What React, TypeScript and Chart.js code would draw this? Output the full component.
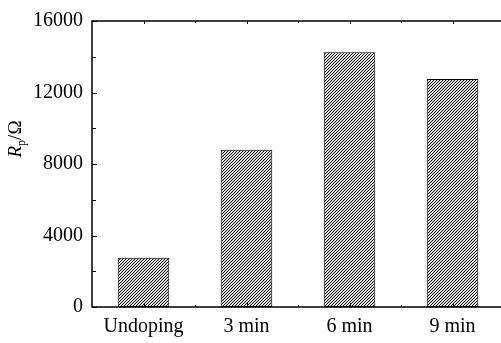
import React, { useEffect, useRef } from "react";
import { Chart, registerables } from "chart.js";

Chart.register(...registerables);

const categories = ["Undoping", "3 min", "6 min", "9 min"];
const rpValues = [2750, 8800, 14250, 12750];
const yTicks = [0, 4000, 8000, 12000, 16000];
const yMinorStep = 2000;
const yMax = 16000;

const FONT = "'Liberation Serif', 'Times New Roman', serif";

function makeHatch(): CanvasPattern | string {
  const c = document.createElement("canvas");
  const p = 3;
  c.width = p;
  c.height = p;
  const cx = c.getContext("2d");
  if (!cx) return "#555";
  const img = cx.createImageData(p, p);
  for (let y = 0; y < p; y++) {
    for (let x = 0; x < p; x++) {
      const i = (y * p + x) * 4;
      const m = (x + y) % p;
      const v = m === 0 ? 0 : 225;
      img.data[i] = v;
      img.data[i + 1] = v;
      img.data[i + 2] = v;
      img.data[i + 3] = 255;
    }
  }
  cx.putImageData(img, 0, 0);
  return cx.createPattern(c, "repeat") || "#555";
}

const framePlugin = {
  id: "frame",
  afterDraw(chart: any) {
    const { ctx, chartArea, scales } = chart;
    const { left, right, top, bottom } = chartArea;
    const ys = scales.y;
    const xs = scales.x;
    ctx.save();
    ctx.strokeStyle = "#000";
    ctx.lineWidth = 1.5;
    ctx.beginPath();
    ctx.rect(left, top, right - left, bottom - top);
    ctx.stroke();
    ctx.lineWidth = 1;
    for (let v = 0; v <= yMax; v += yMinorStep) {
      const py = Math.round(ys.getPixelForValue(v)) + 0.5;
      const len = v % 4000 === 0 ? 5 : 4;
      ctx.beginPath();
      ctx.moveTo(left, py);
      ctx.lineTo(left + len, py);
      ctx.stroke();
    }
    const n = categories.length;
    for (let i = 0; i < n; i++) {
      const px = Math.round(xs.getPixelForValue(i)) + 0.5;
      ctx.beginPath();
      ctx.moveTo(px, bottom);
      ctx.lineTo(px, bottom - 4);
      ctx.moveTo(px, top);
      ctx.lineTo(px, top + 3);
      ctx.stroke();
      if (i > 0) {
        const bx = Math.round((xs.getPixelForValue(i) + xs.getPixelForValue(i - 1)) / 2) + 0.5;
        ctx.beginPath();
        ctx.moveTo(bx, bottom);
        ctx.lineTo(bx, bottom - 2);
        ctx.moveTo(bx, top);
        ctx.lineTo(bx, top + 2);
        ctx.stroke();
      }
    }
    ctx.fillStyle = "#000";
    ctx.textBaseline = "alphabetic";
    ctx.textAlign = "left";
    const mainFont = `italic 19px ${FONT}`;
    const subFont = `12px ${FONT}`;
    const restFont = `19px ${FONT}`;
    ctx.font = mainFont;
    const wR = ctx.measureText("R").width;
    ctx.font = subFont;
    const wP = ctx.measureText("p").width;
    ctx.font = restFont;
    const wRest = ctx.measureText("/Ω").width;
    const total = wR + wP + wRest;
    ctx.translate(21, 139);
    ctx.rotate(-Math.PI / 2);
    let x0 = -total / 2;
    ctx.font = mainFont;
    ctx.fillText("R", x0, 0);
    x0 += wR;
    ctx.font = subFont;
    ctx.fillText("p", x0, 4);
    x0 += wP;
    ctx.font = restFont;
    ctx.fillText("/Ω", x0, 0);
    ctx.restore();
  },
};

export default function App() {
  const ref = useRef<HTMLCanvasElement | null>(null);
  useEffect(() => {
    if (!ref.current) return;
    const hatch = makeHatch();
    const chart = new Chart(ref.current, {
      type: "bar",
      data: {
        labels: categories,
        datasets: [
          {
            data: rpValues,
            backgroundColor: hatch as any,
            borderColor: "#000",
            borderWidth: 1,
            borderSkipped: false,
            barPercentage: 0.5,
            categoryPercentage: 1,
          },
        ],
      },
      options: {
        animation: false,
        responsive: false,
        maintainAspectRatio: false,
        layout: { padding: { top: 16, left: 0, right: 0, bottom: 0 } },
        plugins: { legend: { display: false }, tooltip: { enabled: false } },
        scales: {
          x: {
            offset: true,
            grid: { display: false, drawTicks: false },
            border: { display: false },
            ticks: { color: "#000", font: { family: FONT, size: 20 }, padding: 8 },
            afterFit: (s: any) => {
              s.height = 36;
            },
          },
          y: {
            min: 0,
            max: yMax,
            grid: { display: false, drawTicks: false },
            border: { display: false },
            afterBuildTicks: (s: any) => {
              s.ticks = yTicks.map((v) => ({ value: v }));
            },
            ticks: {
              color: "#000",
              font: { family: FONT, size: 20 },
              padding: 9,
              callback: (v: any) => String(v),
            },
            afterFit: (s: any) => {
              s.width = 92;
            },
          },
        },
      },
      plugins: [framePlugin],
    });
    return () => chart.destroy();
  }, []);
  return (
    <div style={{ position: "fixed", left: 0, top: 0, width: 501, height: 343, overflow: "hidden", background: "#fff" }}>
      <canvas ref={ref} width={504} height={343} style={{ display: "block", width: 504, height: 343 }} />
    </div>
  );
}
